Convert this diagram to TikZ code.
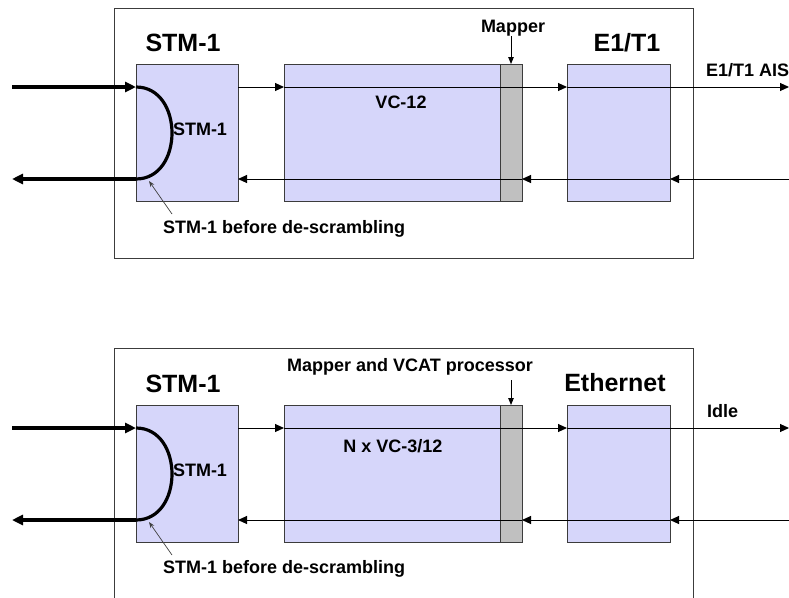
\documentclass[tikz,border=0pt]{standalone}
\usepackage{fontspec}
\setmainfont{Liberation Sans}
\usetikzlibrary{arrows.meta}
\definecolor{boxfill}{RGB}{214,214,250}
\definecolor{mapfill}{RGB}{192,192,192}
\definecolor{edgec}{RGB}{60,60,60}
\begin{document}
\begin{tikzpicture}[x=1pt,y=-1pt,
  frame/.style={draw=edgec, line width=1pt, inner sep=0pt, outer sep=0pt, anchor=north west, minimum width=579pt},
  blk/.style={draw=edgec, line width=1pt, fill=boxfill, inner sep=0pt, outer sep=0pt, anchor=north west, minimum height=137pt},
  mapblk/.style={blk, fill=mapfill, minimum width=22pt},
  conn/.style={draw=black, line width=1pt, -{Triangle[length=9pt,width=8pt]}},
  thickconn/.style={draw=black, line width=3.2pt, -{Triangle[length=11pt,width=10pt]}},
  arcline/.style={draw=black, line width=3.2pt},
  ptr/.style={draw=black!75, line width=0.7pt, -{Stealth[length=6pt,width=4.5pt]}},
  mptr/.style={draw=black, line width=1pt, -{Triangle[length=7pt,width=5.5pt]}},
  bigtxt/.style={font=\bfseries\fontsize{25}{28}\selectfont, inner sep=0pt},
  smtxt/.style={font=\bfseries\fontsize{18}{20}\selectfont, inner sep=0pt}
]
\useasboundingbox (0,0) rectangle (789,597);
\clip (0,0) rectangle (789,597);

% ---------------- top panel ----------------
\node[frame, minimum height=250pt] (fa) at (114,8) {};
\node[blk, minimum width=102pt] (as1) at (136,64) {};
\node[blk, minimum width=216pt] (avc) at (284,64) {};
\node[mapblk] (amap) at (500,64) {};
\node[blk, minimum width=103pt] (ae1) at (567,64) {};

\coordinate (aup) at (0,87);
\coordinate (alo) at (0,179);
\coordinate (alin) at (12,87);
\coordinate (alout) at (12,179);
\coordinate (arout) at (789,87);
\coordinate (arin) at (789,179);
\coordinate (amt) at (511,36);
\coordinate (apt) at (172,214);
\coordinate (aph) at (149,181);

\node[bigtxt] (ah1) at (183,43) {STM-1};
\node[bigtxt] (ah2) at (627,43) {E1/T1};
\node[smtxt] (amlab) at (513,28) {Mapper};
\node[smtxt, anchor=west] (aout) at (706,70) {E1/T1 AIS};
\node[smtxt] (avclab) at (401,102) {VC-12};
\node[smtxt] (astm) at (200,129) {STM-1};
\node[smtxt, anchor=west] (anote) at (163,229) {STM-1 before de-scrambling};

\draw[thickconn] (alin) -- (as1.west |- aup);
\draw[arcline] (as1.west |- aup) .. controls +(48,0) and +(48,0) .. (as1.west |- alo);
\draw[thickconn] (as1.west |- alo) -- (alout);

\draw[conn] (as1.east |- aup) -- (avc.west |- aup);
\draw[conn] (avc.west |- aup) -- (ae1.west |- aup);
\draw[conn] (ae1.west |- aup) -- (arout);
\draw[conn] (arin) -- (ae1.east |- alo);
\draw[conn] (ae1.east |- alo) -- (amap.east |- alo);
\draw[conn] (amap.east |- alo) -- (as1.east |- alo);

\draw[mptr] (amt) -- (amap.north);
\draw[ptr] (apt) -- (aph);

% ---------------- bottom panel ----------------
\node[frame, minimum height=270pt] (fb) at (114,348) {};
\node[blk, minimum width=102pt] (bs1) at (136,405) {};
\node[blk, minimum width=216pt] (bvc) at (284,405) {};
\node[mapblk] (bmap) at (500,405) {};
\node[blk, minimum width=103pt] (be1) at (567,405) {};

\coordinate (bup) at (0,428);
\coordinate (blo) at (0,520);
\coordinate (blin) at (12,428);
\coordinate (blout) at (12,520);
\coordinate (brout) at (789,428);
\coordinate (brin) at (789,520);
\coordinate (bmt) at (511,380);
\coordinate (bpt) at (172,555);
\coordinate (bph) at (149,522);

\node[bigtxt] (bh1) at (183,384) {STM-1};
\node[bigtxt] (bh2) at (615,383) {Ethernet};
\node[smtxt, anchor=west] (bmlab) at (287,367) {Mapper and VCAT processor};
\node[smtxt, anchor=west] (bout) at (707,411) {Idle};
\node[smtxt] (bvclab) at (393,446) {N x VC-3/12};
\node[smtxt] (bstm) at (200,470) {STM-1};
\node[smtxt, anchor=west] (bnote) at (163,569) {STM-1 before de-scrambling};

\draw[thickconn] (blin) -- (bs1.west |- bup);
\draw[arcline] (bs1.west |- bup) .. controls +(48,0) and +(48,0) .. (bs1.west |- blo);
\draw[thickconn] (bs1.west |- blo) -- (blout);

\draw[conn] (bs1.east |- bup) -- (bvc.west |- bup);
\draw[conn] (bvc.west |- bup) -- (be1.west |- bup);
\draw[conn] (be1.west |- bup) -- (brout);
\draw[conn] (brin) -- (be1.east |- blo);
\draw[conn] (be1.east |- blo) -- (bmap.east |- blo);
\draw[conn] (bmap.east |- blo) -- (bs1.east |- blo);

\draw[mptr] (bmt) -- (bmap.north);
\draw[ptr] (bpt) -- (bph);
\end{tikzpicture}
\end{document}
